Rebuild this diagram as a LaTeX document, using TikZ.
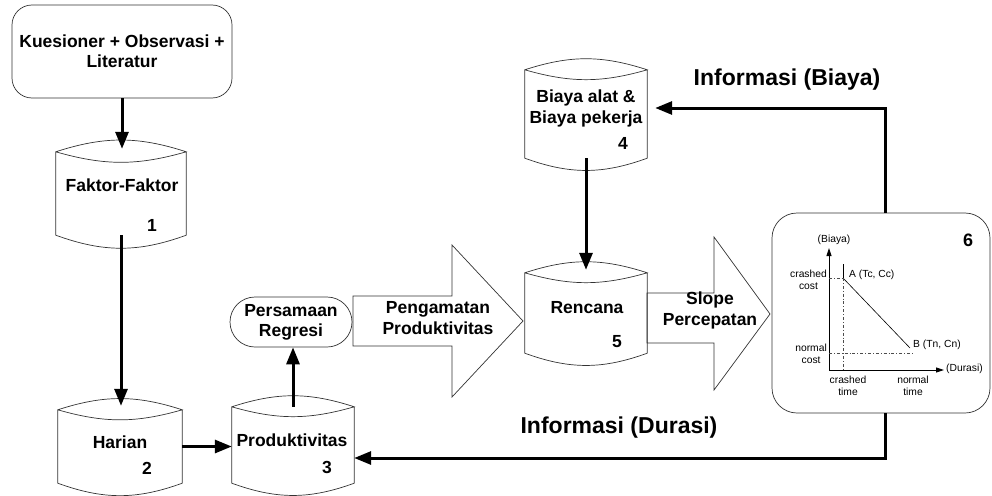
\documentclass[tikz,border=0pt]{standalone}
\usepackage{fontspec}
\setmainfont{Liberation Sans}
\usetikzlibrary{arrows.meta}

% cylinder outline drawn round a named node
\newcommand{\drawdrum}[1]{%
  \draw[shp] (#1.north west) to[bend left=18] (#1.north east)
    to[bend left=16] (#1.north west) -- (#1.south west)
    to[bend right=20] (#1.south east) -- (#1.north east);}

\begin{document}
\begin{tikzpicture}[x=1pt,y=-1pt,
  shp/.style={draw=black!80,line width=0.7pt},
  box/.style={shp,inner sep=0pt,align=center,font=\fontsize{17.5}{20}\selectfont\bfseries},
  drum/.style={inner sep=0pt},
  lbl/.style={inner sep=0pt,align=center,font=\fontsize{17.5}{21}\selectfont\bfseries},
  num/.style={inner sep=0pt,font=\fontsize{17.5}{20}\selectfont\bfseries},
  info/.style={inner sep=0pt,font=\fontsize{23}{26}\selectfont\bfseries},
  small/.style={inner sep=0pt,align=center,font=\fontsize{10.3}{12.5}\selectfont},
  flow/.style={line width=3pt,-{Triangle[length=17pt,width=13pt]}},
  axis/.style={line width=0.9pt,-{Triangle[length=8pt,width=5pt]}},
  guide/.style={black!70,line width=0.5pt,dash pattern=on 3pt off 2pt on 0.8pt off 2pt}]
  \useasboundingbox (0,0) rectangle (992,495);

  % sources
  \node[box,rounded corners=20pt,minimum width=220pt,minimum height=93pt] (kues) at (122,51.5)
    {Kuesioner + Observasi +\\Literatur};

  \node[drum,minimum width=130pt,minimum height=83pt] (faktor) at (121,193.5) {};
  \drawdrum{faktor}
  \node[lbl] (faktor-t) at (122,185) {Faktor-Faktor};
  \node[num] (faktor-n) at (152,225) {1};

  \node[drum,minimum width=124pt,minimum height=73pt] (harian) at (120,446.5) {};
  \drawdrum{harian}
  \node[lbl] (harian-t) at (120,442) {Harian};
  \node[num] (harian-n) at (147,468) {2};

  \node[drum,minimum width=122pt,minimum height=76pt] (produk) at (293,445) {};
  \drawdrum{produk}
  \node[lbl] (produk-t) at (292,440) {Produktivitas};
  \node[num] (produk-n) at (327,467) {3};

  \node[box,rounded corners=25pt,minimum width=122pt,minimum height=50pt] (regresi) at (291,322)
    {Persamaan\\Regresi};

  \node[drum,minimum width=122pt,minimum height=88pt] (biaya) at (586,114) {};
  \drawdrum{biaya}
  \node[lbl] (biaya-t) at (586,108.5) {Biaya alat \&\\Biaya pekerja};
  \node[num] (biaya-n) at (623,143) {4};

  \node[drum,minimum width=122pt,minimum height=80pt] (rencana) at (586,313) {};
  \drawdrum{rencana}
  \node[lbl] (rencana-t) at (587,308) {Rencana};
  \node[num] (rencana-n) at (617,342) {5};

  % big arrows
  \draw[shp] (353,296) -- (452,296) -- (452,245) -- (523,321) -- (452,397) -- (452,346) -- (353,346) -- cycle;
  \node[lbl] (amat) at (438,318) {Pengamatan\\Produktivitas};
  \draw[shp] (647,293) -- (714,293) -- (714,237) -- (770,314) -- (714,390) -- (714,343) -- (647,343) -- cycle;
  \node[lbl] (slope) at (710,310) {Slope\\Percepatan};

  % cost-time graph
  \node[shp,rounded corners=25pt,minimum width=218pt,minimum height=200pt] (grafik) at (881,313) {};
  \node[inner sep=0pt,font=\fontsize{18}{20}\selectfont\bfseries] (grafik-n) at (968,240) {6};
  \coordinate (o) at (829,370);
  \coordinate (ptA) at (843,278);
  \coordinate (ptB) at (910,348);
  \draw[axis] (o) -- (829,248);
  \draw[axis] (o) -- (944,370);
  \draw[line width=0.6pt] (ptA) -- (ptB);
  \draw[line width=0.6pt] (843,264) -- (ptA);
  \draw[guide] (o |- ptA) -- (ptA);
  \draw[guide] (ptA) -- (o -| ptA);
  \draw[guide] (829,353) -- (913,353);
  \node[small] (ylab) at (834,240) {(Biaya)};
  \node[small,anchor=west] (xlab) at (946,369) {(Durasi)};
  \node[small,anchor=east] (cc) at (827,280) {crashed\\cost};
  \node[small,anchor=east] (nc) at (827,354) {normal\\cost};
  \node[small,anchor=west] (lblA) at (849,275) {A (Tc, Cc)};
  \node[small,anchor=west] (lblB) at (913,345) {B (Tn, Cn)};
  \node[small] (ct) at (848,386) {crashed\\time};
  \node[small] (nt) at (913,386) {normal\\time};

  % flows
  \draw[flow,shorten >=3pt] (kues) -- (kues |- faktor.north);
  \draw[flow,shorten >=4pt] (faktor.south) -- (faktor.south |- harian.north);
  \draw[flow] (harian.east) -- (harian.east -| produk.west);
  \draw[flow] (produk.north) -- (produk.north |- regresi.south);
  \draw[flow,shorten >=3pt] (biaya.south) -- (rencana.north);
  \draw[flow] ([xshift=4pt]grafik.north) |- ([xshift=8pt,yshift=6pt]biaya.east);
  \draw[flow] ([xshift=4pt]grafik.south) |- ([yshift=-13pt]produk.east);
  \node[info] (info-b) at (787,80) {Informasi (Biaya)};
  \node[info] (info-d) at (619,428) {Informasi (Durasi)};
\end{tikzpicture}
\end{document}
